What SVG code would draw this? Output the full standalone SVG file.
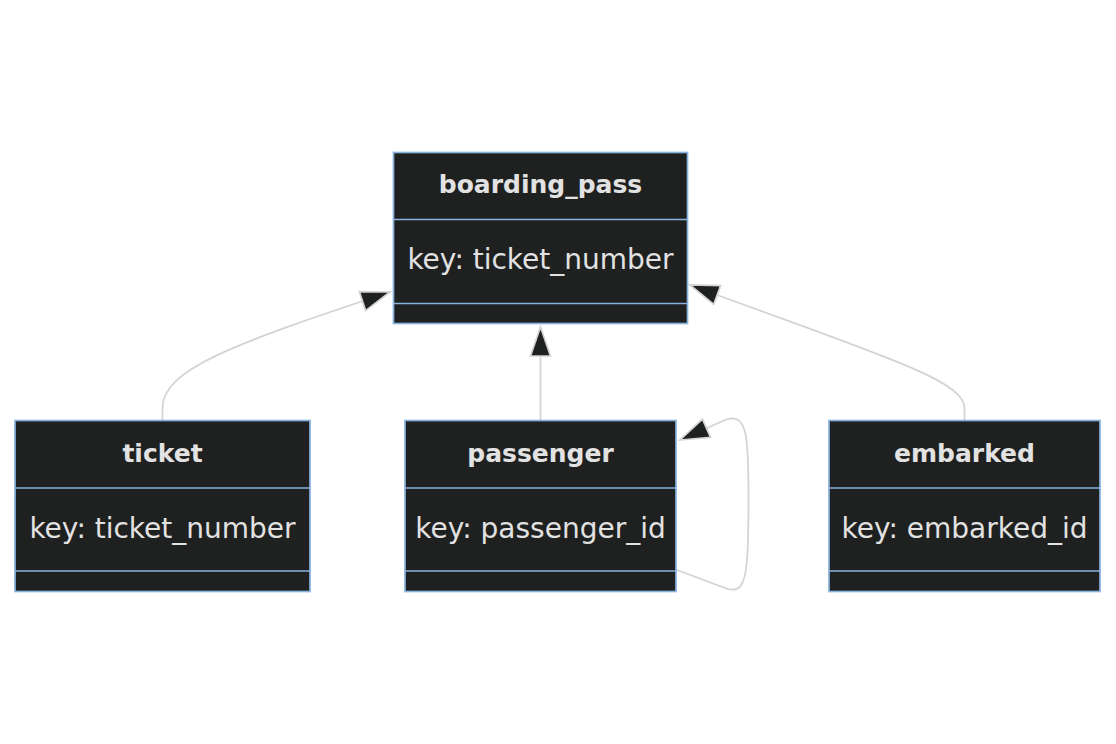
<svg xmlns="http://www.w3.org/2000/svg" width="1116" height="744" viewBox="0 0 1116 744">
<style>
.box{fill:#1f2020;stroke:#89b3de;stroke-width:1.7}
.div{stroke:#89b3de;stroke-width:1.7;fill:none}
.title{font-family:"DejaVu Sans",sans-serif;font-weight:bold;font-size:25px;fill:#e2e2e2;text-anchor:middle}
.attr{font-family:"DejaVu Sans",sans-serif;font-size:28px;fill:#e2e2e2;text-anchor:middle}
.edge{fill:none;stroke:#d3d3d3;stroke-width:1.7}
</style>
<defs>
<marker id="ext" viewBox="0 0 33 24" refX="31" refY="12" markerWidth="33" markerHeight="24" markerUnits="userSpaceOnUse" orient="auto">
<path d="M31,12 L2,2 L2,22 Z" fill="#1f2020" stroke="#d3d3d3" stroke-width="1.7"/>
</marker>
</defs>
<rect width="1116" height="744" fill="#ffffff"/>
<g id="connectors">
<path class="edge" d="M162.5,420 L162.5,408 C162.5,370 230,345 390,292" marker-end="url(#ext)"/>
<path class="edge" d="M540.5,420 L540.5,327" marker-end="url(#ext)"/>
<path class="edge" d="M964.5,420 L964.5,408 C964.5,380 880,355 690,285" marker-end="url(#ext)"/>
<path class="edge" d="M677,570 L725,588 C740,594 745,585 747,560 C749,530 749,470 747,445 C745,420 737,415 725,420 L680,440" marker-end="url(#ext)"/>
</g>
<g id="boarding_pass">
<rect class="box" x="393.5" y="152.5" width="294" height="171"/>
<line class="div" x1="393.5" y1="219.5" x2="687.5" y2="219.5"/>
<line class="div" x1="393.5" y1="303.5" x2="687.5" y2="303.5"/>
<text class="title" x="540.5" y="193">boarding_pass</text>
<text class="attr" x="540.5" y="269">key: ticket_number</text>
</g>
<g id="ticket">
<rect class="box" x="15" y="420.5" width="295" height="171"/>
<line class="div" x1="15" y1="488" x2="310" y2="488"/>
<line class="div" x1="15" y1="571" x2="310" y2="571"/>
<text class="title" x="162.5" y="461.5">ticket</text>
<text class="attr" x="162.5" y="538">key: ticket_number</text>
</g>
<g id="passenger">
<rect class="box" x="405" y="420.5" width="271" height="171"/>
<line class="div" x1="405" y1="488" x2="676" y2="488"/>
<line class="div" x1="405" y1="571" x2="676" y2="571"/>
<text class="title" x="540.5" y="461.5">passenger</text>
<text class="attr" x="540.5" y="538">key: passenger_id</text>
</g>
<g id="embarked">
<rect class="box" x="829" y="420.5" width="271" height="171"/>
<line class="div" x1="829" y1="488" x2="1100" y2="488"/>
<line class="div" x1="829" y1="571" x2="1100" y2="571"/>
<text class="title" x="964.5" y="461.5">embarked</text>
<text class="attr" x="964.5" y="538">key: embarked_id</text>
</g>
</svg>
